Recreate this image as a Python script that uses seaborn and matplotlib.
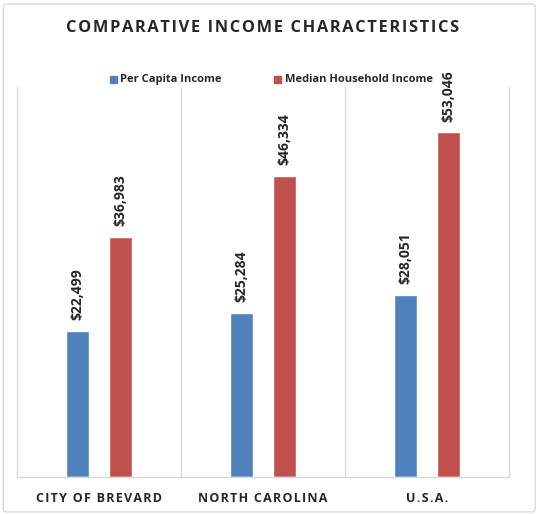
import seaborn as sns
import matplotlib.pyplot as plt
import pandas as pd
from matplotlib.patches import FancyBboxPatch

# data
places = ["CITY OF BREVARD", "NORTH CAROLINA", "U.S.A."]
per_capita = [22499, 25284, 28051]
median_household = [36983, 46334, 53046]
series = ["Per Capita Income", "Median Household Income"]
title = "COMPARATIVE INCOME CHARACTERISTICS"

df = pd.DataFrame({
    "place": places * 2,
    "series": [series[0]] * 3 + [series[1]] * 3,
    "income": per_capita + median_household,
})


def spaced(s):
    # hair spaces to imitate the letter spacing of the original
    return "\u200a".join(s)


sns.set_style("white")
plt.rcParams["font.family"] = ["Open Sans", "DejaVu Sans"]

fig = plt.figure(figsize=(5.4, 5.14), dpi=100)
ax = fig.add_axes([0.0315, 0.072, 0.911, 0.759])

# light frame around the chart
fig.patches.append(FancyBboxPatch((0.006, 0.004), 0.985, 0.988,
                                  boxstyle="round,pad=0,rounding_size=0.006",
                                  transform=fig.transFigure, fill=False,
                                  edgecolor="#d9d9d9", linewidth=1))

sns.barplot(data=df, x="place", y="income", hue="series",
            palette=["#4f81bd", "#c0504d"], saturation=1,
            width=0.524, gap=0.466, ax=ax, legend=False)

for c in ax.containers:
    ax.bar_label(c, labels=["${:,}".format(int(v)) for v in c.datavalues],
                 rotation=90, padding=7.5, fontsize=10, fontweight="bold",
                 color="#262626")

ax.set_ylim(0, 60000)
ax.set_xlim(-0.5, 2.5)
ax.set_yticks([])
ax.set_xlabel("")
ax.set_ylabel("")
ax.tick_params(axis="x", length=0, pad=11)
ax.set_xticklabels([spaced(p) for p in places], fontsize=9,
                   fontweight="bold", color="#262626")
for x in [0.5, 1.5]:
    ax.axvline(x, color="#d9d9d9", linewidth=1, zorder=0)
ax.spines["top"].set_visible(False)
for s in ["left", "right", "bottom"]:
    ax.spines[s].set_color("#d9d9d9")
    ax.spines[s].set_linewidth(1)

fig.text(0.486, 0.945, spaced(title), ha="center", va="center",
         fontsize=11.8, fontweight="bold", color="#262626")

# legend
fig.patches.append(plt.Rectangle((0.204, 0.839), 0.013, 0.014,
                                 transform=fig.transFigure, color="#4f81bd"))
fig.text(0.223, 0.846, series[0], va="center", fontsize=8, fontweight="bold",
         color="#262626")
fig.patches.append(plt.Rectangle((0.507, 0.839), 0.013, 0.014,
                                 transform=fig.transFigure, color="#c0504d"))
fig.text(0.527, 0.846, series[1], va="center", fontsize=8, fontweight="bold",
         color="#262626")

fig.savefig("out.png", dpi=100)
